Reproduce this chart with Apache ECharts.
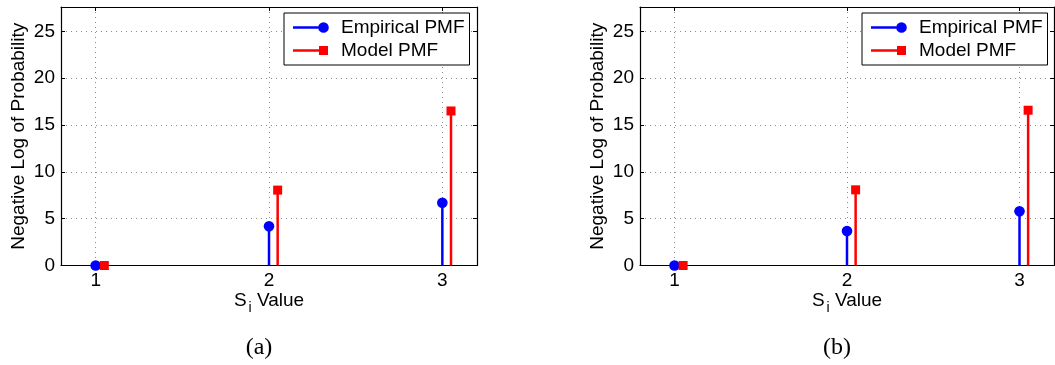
<!DOCTYPE html>
<html>
<head>
<meta charset="utf-8">
<style>
  html, body { margin: 0; padding: 0; background: #fff; }
  #chart { width: 1055px; height: 365px; }
</style>
<script src="https://cdn.jsdelivr.net/npm/echarts@6/dist/echarts.min.js"></script>
</head>
<body>
<div id="chart"></div>
<script>
// ---- data ----
const categories = [1, 2, 3];
const modelOffset = 0.05; // model stems are drawn slightly to the right of each S_i value
const empiricalA = [0, 4.18, 6.7];
const modelA = [0, 8.05, 16.5];
const empiricalB = [0, 3.68, 5.78];
const modelB = [0, 8.08, 16.58];
const yTicks = [0, 5, 10, 15, 20, 25];
const seriesNames = ['Empirical PMF', 'Model PMF'];
const captions = ['(a)', '(b)'];

const FONT = 'Liberation Sans, Arial, Helvetica, sans-serif';
const BLUE = '#0000ff';
const RED = '#ff0000';

function pairs(vals, off) {
  return categories.map((c, i) => [c + off, vals[i]]);
}

function stemRender(kind) {
  return function (params, api) {
    const x = api.value(0), y = api.value(1);
    const p0 = api.coord([x, 0]);
    const p1 = api.coord([x, y]);
    const color = api.visual('color');
    const children = [{
      type: 'line',
      shape: { x1: p0[0], y1: p0[1], x2: p1[0], y2: p1[1] },
      style: { stroke: color, lineWidth: 2.5 }
    }];
    if (kind === 'circle') {
      children.push({ type: 'circle', shape: { cx: p1[0], cy: p1[1], r: 5.3 }, style: { fill: color } });
    } else {
      children.push({ type: 'rect', shape: { x: p1[0] - 4.5, y: p1[1] - 4.5, width: 9, height: 9 }, style: { fill: color } });
    }
    return { type: 'group', children };
  };
}

const corners = 'M0,0 L0.01,0 L0,0.01 Z M36,11 L35.99,11 L36,10.99 Z ';
const iconCircle = 'path://' + corners + 'M0,4.3 L25.3,4.3 L25.3,6.7 L0,6.7 Z M25.2,5.5 A5.3,5.3 0 1,1 35.8,5.5 A5.3,5.3 0 1,1 25.2,5.5 Z';
const iconSquare = 'path://' + corners + 'M0,4.3 L26,4.3 L26,6.7 L0,6.7 Z M26,1 L35,1 L35,10 L26,10 Z';

const panels = [
  { left: 61, width: 416, emp: empiricalA, mod: modelA, legendLeft: 284, cap: 259 },
  { left: 640, width: 414, emp: empiricalB, mod: modelB, legendLeft: 862, cap: 837 }
];

const grid = [], xAxis = [], yAxis = [], series = [], legend = [], graphic = [];

panels.forEach((p, k) => {
  grid.push({ left: p.left, top: 7, width: p.width, height: 258.5, containLabel: false });
  const base = {
    gridIndex: k,
    axisLine: { show: true, onZero: false, lineStyle: { color: '#000', width: 1.2 } }
  };
  const xTick = { show: true, inside: true, length: 4, lineStyle: { color: '#000' }, customValues: categories };
  const yTick = { show: true, inside: true, length: 4, lineStyle: { color: '#000' }, customValues: yTicks };
  // bottom x
  xAxis.push(Object.assign({}, base, {
    type: 'value', position: 'bottom', min: 0.8, max: 3.2,
    axisTick: xTick,
    name: '{m|S}{sub|i}{m| Value}', nameLocation: 'middle', nameGap: 20, nameMoveOverlap: false,
    nameTextStyle: {
      rich: {
        m: { fontFamily: FONT, fontSize: 19, color: '#000' },
        sub: { fontFamily: FONT, fontSize: 14, color: '#000', padding: [16, 0, 0, 2] }
      }
    },
    axisLabel: { fontFamily: FONT, fontSize: 19, color: '#000', margin: 6, customValues: categories },
    splitLine: { show: true, lineStyle: { color: '#8a8a8a', type: [1, 4], width: 1 } }
  }));
  // top x
  xAxis.push(Object.assign({}, base, {
    type: 'value', position: 'top', min: 0.8, max: 3.2,
    axisTick: xTick,
    axisLabel: { show: false, customValues: categories }, splitLine: { show: false }
  }));
  // left y
  yAxis.push(Object.assign({}, base, {
    type: 'value', position: 'left', min: yTicks[0], max: 27.6,
    axisTick: yTick,
    name: 'Negative Log of Probability', nameLocation: 'middle', nameGap: 33, nameRotate: 90,
    nameTextStyle: { fontFamily: FONT, fontSize: 19, color: '#000' },
    axisLabel: { fontFamily: FONT, fontSize: 19, color: '#000', margin: 6, customValues: yTicks },
    splitLine: { show: true, lineStyle: { color: '#8a8a8a', type: [1, 4], width: 1 } }
  }));
  // right y
  yAxis.push(Object.assign({}, base, {
    type: 'value', position: 'right', min: yTicks[0], max: 27.6,
    axisTick: yTick,
    axisLabel: { show: false, customValues: yTicks }, splitLine: { show: false }
  }));

  series.push({
    name: seriesNames[0], type: 'custom', xAxisIndex: 2 * k, yAxisIndex: 2 * k,
    color: BLUE, renderItem: stemRender('circle'), data: pairs(p.emp, 0), z: 3
  });
  series.push({
    name: seriesNames[1], type: 'custom', xAxisIndex: 2 * k, yAxisIndex: 2 * k,
    color: RED, renderItem: stemRender('square'), data: pairs(p.mod, modelOffset), z: 4
  });

  legend.push({
    orient: 'vertical', left: p.legendLeft, top: 13,
    padding: [5, 5, 5, 9], itemGap: 4, itemWidth: 36, itemHeight: 11,
    backgroundColor: '#fff', borderColor: '#000', borderWidth: 1, borderRadius: 0,
    selectedMode: false, z: 10,
    textStyle: { fontFamily: FONT, fontSize: 19, lineHeight: 19, color: '#000', padding: [0, 0, 0, 7] },
    data: [
      { name: seriesNames[0], icon: iconCircle, itemStyle: { color: BLUE } },
      { name: seriesNames[1], icon: iconSquare, itemStyle: { color: RED } }
    ]
  });

  graphic.push({
    type: 'text', x: p.cap, y: 348,
    style: { text: captions[k], fill: '#000', font: '24px "Liberation Serif", "Times New Roman", serif',
      textAlign: 'center', textVerticalAlign: 'middle' }
  });
});

const chart = echarts.init(document.getElementById('chart'), null, { renderer: 'canvas' });
chart.setOption({
  animation: false,
  backgroundColor: '#fff',
  grid, xAxis, yAxis, series, legend, graphic
});
</script>
</body>
</html>
